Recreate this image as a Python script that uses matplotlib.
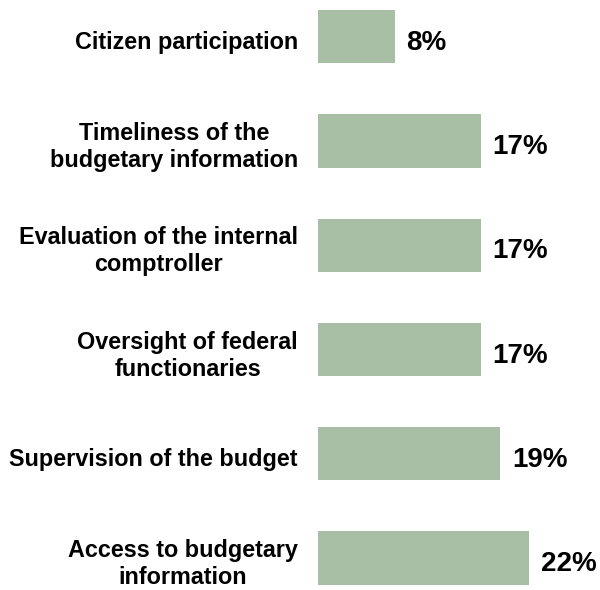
import matplotlib
matplotlib.use("Agg")
import matplotlib.pyplot as plt

categories = [
    "Access to budgetary\ninformation",
    "Supervision of the budget",
    "Oversight of federal\nfunctionaries",
    "Evaluation of the internal\ncomptroller",
    "Timeliness of the\nbudgetary information",
    "Citizen participation",
]
values = [22, 19, 17, 17, 17, 8]
value_labels = ["22%", "19%", "17%", "17%", "17%", "8%"]

bar_color = "#a8bfa6"


def main():
    plt.rcParams['font.family'] = ['Liberation Sans', 'DejaVu Sans']
    fig = plt.figure(figsize=(6.0, 5.9), dpi=100)
    ax = fig.add_axes([318 / 600, 0, 282 / 600, 1])

    pos = list(range(len(values)))
    ax.barh(pos, values, height=0.51, color=bar_color)

    # percentage next to each bar
    for y, v, lab in zip(pos, values, value_labels):
        ax.text(v + 1.2, y - 0.06, lab, ha='left', va='center',
                fontsize=20, fontweight='bold')

    # category names, centred lines, right edge left of the bars
    for y, name in zip(pos, categories):
        ax.text(-2.1, y - 0.06, name, ha='right', va='center',
                multialignment='center', fontsize=16.8, fontweight='bold',
                linespacing=1.22, clip_on=False)

    ax.set_xlim(0, 29.375)
    ax.set_ylim(-0.307, 5.352)
    ax.set_xticks([])
    ax.set_yticks([])
    for s in ax.spines.values():
        s.set_visible(False)

    fig.savefig("out.png", dpi=100)


if __name__ == "__main__":
    main()
